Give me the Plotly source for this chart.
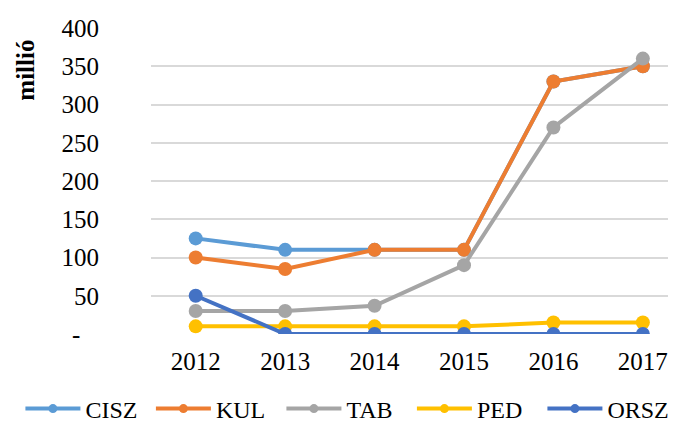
import plotly.graph_objects as go

years = ["2012", "2013", "2014", "2015", "2016", "2017"]

cisz = [125, 110, 110, 110, 330, 350]
kul = [100, 85, 110, 110, 330, 350]
tab = [30, 30, 37, 90, 270, 360]
ped = [10, 10, 10, 10, 15, 15]
orsz = [50, 0, 0, 0, 0, 0]

y_ticks = [0, 50, 100, 150, 200, 250, 300, 350, 400]
y_labels = ["-\u00a0\u00a0\u00a0"] + [str(v) for v in y_ticks[1:]]

series = [
    ("CISZ", cisz, "#5B9BD5"),
    ("KUL", kul, "#ED7D31"),
    ("TAB", tab, "#A5A5A5"),
    ("PED", ped, "#FFC000"),
    ("ORSZ", orsz, "#4472C4"),
]

FONT = "Liberation Serif, Times New Roman, serif"

fig = go.Figure()
for name, vals, color in series:
    fig.add_trace(
        go.Scatter(
            x=list(range(len(years))),
            y=vals,
            name=name,
            mode="lines+markers",
            line=dict(color=color, width=4),
            marker=dict(color=color, size=14),
            showlegend=False,
        )
    )

# legend-only entries, so the legend markers can be smaller than the plotted ones
for name, vals, color in series:
    fig.add_trace(
        go.Scatter(
            x=[None],
            y=[None],
            name=name,
            mode="lines+markers",
            line=dict(color=color, width=4),
            marker=dict(color=color, size=9),
        )
    )

fig.update_layout(
    width=676,
    height=422,
    margin=dict(l=143, r=0, t=20, b=96, autoexpand=False),
    plot_bgcolor="white",
    paper_bgcolor="white",
    font=dict(family=FONT, size=25, color="black"),
    xaxis=dict(
        tickvals=list(range(len(years))),
        ticktext=years,
        range=[-0.5, 5.46],
        showgrid=False,
        zeroline=False,
        ticks="",
        ticklabelstandoff=10,
        automargin=False,
    ),
    yaxis=dict(
        range=[0, 400],
        tickvals=y_ticks,
        ticktext=y_labels,
        showgrid=True,
        gridcolor="#D9D9D9",
        gridwidth=1.5,
        zeroline=False,
        ticks="",
        ticklabelstandoff=51,
        automargin=False,
    ),
    legend=dict(
        orientation="h",
        xref="paper",
        yref="paper",
        x=-0.245,
        xanchor="left",
        y=-0.245,
        yanchor="middle",
        itemwidth=55,
        entrywidth=60.5,
        entrywidthmode="pixels",
        font=dict(size=24),
        tracegroupgap=0,
    ),
    annotations=[
        dict(
            text="<b>millió</b>",
            xref="paper",
            yref="paper",
            x=-0.235,
            y=0.863,
            xanchor="center",
            yanchor="middle",
            textangle=-90,
            showarrow=False,
            font=dict(size=25),
        )
    ],
)

fig.write_html("out.html")
